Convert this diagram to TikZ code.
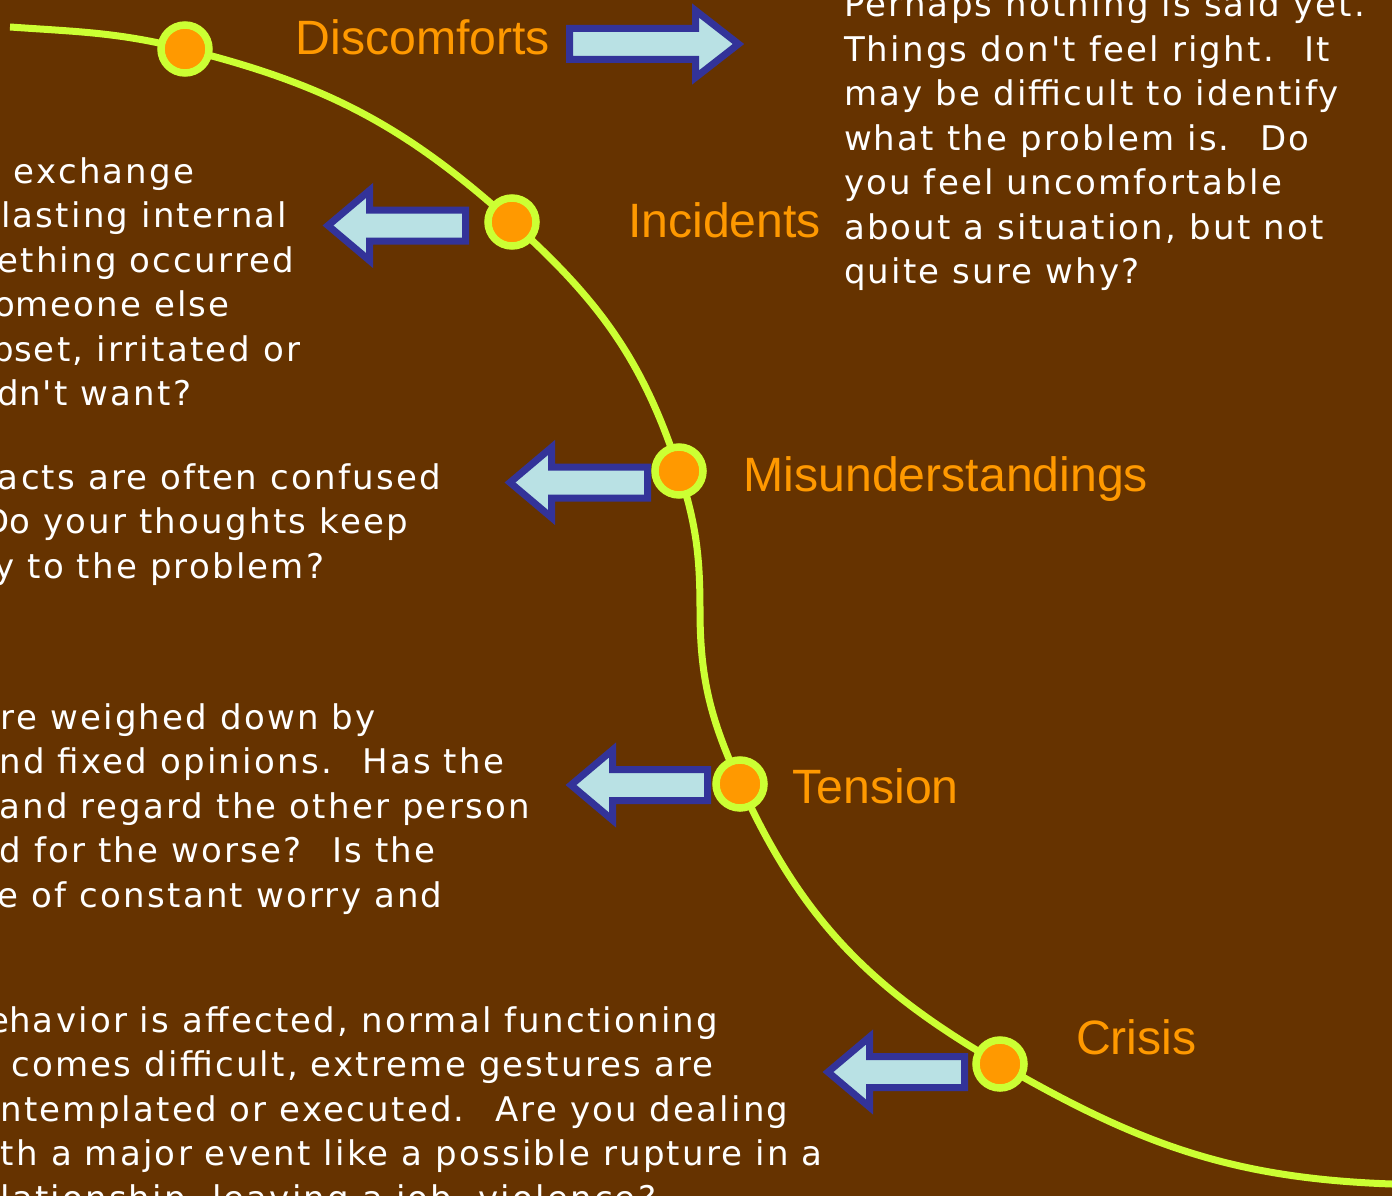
\documentclass[tikz,border=0pt]{standalone}
\usepackage{fontspec}
\newfontfamily\bodyfont[LetterSpace=6.5]{DejaVu Sans}
\newfontfamily\labelfont{Liberation Sans}
\definecolor{bgbrown}{HTML}{663300}
\definecolor{trackcol}{HTML}{CCFF33}
\definecolor{dotfill}{HTML}{FF9900}
\definecolor{lblcol}{HTML}{FF9900}
\definecolor{arrfill}{RGB}{185,225,228}
\definecolor{arrline}{HTML}{333399}
\tikzset{
  txt/.style={anchor=base west, inner sep=0pt, outer sep=0pt, text=white,
    font=\bodyfont\fontsize{34}{40}\selectfont},
  lbl/.style={anchor=base west, inner sep=0pt, outer sep=0pt, text=lblcol,
    font=\labelfont\fontsize{48.2}{50}\selectfont},
  dot/.style={circle, inner sep=0pt, minimum size=48pt, line width=7.5pt,
    draw=trackcol, fill=dotfill},
  blockarrow/.style={draw=arrline, fill=arrfill, line width=7pt, miter limit=10},
  track/.style={draw=trackcol, line width=7pt}
}
\newcommand\larrow[3]{\draw[blockarrow] ({#1+5},{-#2}) -- ({#1+46.5},{-#2+35}) -- ({#1+46.5},{-#2+15.5}) -- ({#3-3.5},{-#2+15.5}) -- ({#3-3.5},{-#2-15.5}) -- ({#1+46.5},{-#2-15.5}) -- ({#1+46.5},{-#2-35}) -- cycle;}
\begin{document}
\begin{tikzpicture}[x=1pt,y=1pt]
\useasboundingbox (0,0) rectangle (1392,-1196);
\fill[bgbrown] (0,0) rectangle (1392,-1196);
\clip (0,0) rectangle (1392,-1196);

% curve
\coordinate (S) at (10,-27);
\coordinate (k1) at (185,-49);
\coordinate (k2) at (512,-222);
\coordinate (k3) at (679,-471);
\coordinate (V) at (700,-610);
\coordinate (k4) at (740,-784);
\coordinate (k5) at (1000,-1064);
\coordinate (E) at (1392,-1184);
\draw[track] (S) to[out=-4,in=166] (k1) to[out=-14,in=138] (k2)
  to[out=-42,in=108] (k3) to[out=-72,in=90] (V) to[out=-90,in=114.5] (k4)
  to[out=-65.5,in=150] (k5) to[out=-30,in=178] (E);

% arrows
\draw[blockarrow] (569.5,-28.5) -- (695.5,-28.5) -- (695.5,-10.5) -- (738.5,-44)
  -- (695.5,-77.5) -- (695.5,-59.5) -- (569.5,-59.5) -- cycle;
\larrow{323}{225.5}{469}
\larrow{505}{482.5}{651}
\larrow{566}{785}{711}
\larrow{823}{1072}{968}

% dots
\node[dot] (d1) at (k1) {};
\node[dot] (d2) at (k2) {};
\node[dot] (d3) at (k3) {};
\node[dot] (d4) at (k4) {};
\node[dot] (d5) at (k5) {};

% labels
\node[lbl] (L1) at (295.5,-55) {Discomforts};
\node[lbl] (L2) at (628,-237.3) {Incidents};
\node[lbl] (L3) at (743.5,-491.7) {Misunderstandings};
\node[lbl] (L4) at (792.5,-803.3) {Tension};
\node[lbl] (L5) at (1076,-1054) {Crisis};

% right text
\node[txt] (r1) at (844,-16.8) {Perhaps nothing is said yet.};
\node[txt] (r2) at (844,-61.3) {Things don't feel right.~ It};
\node[txt] (r3) at (844,-105.8) {may be difficult to identify};
\node[txt] (r4) at (844,-150.3) {what the problem is.~ Do};
\node[txt] (r5) at (844,-194.8) {you feel uncomfortable};
\node[txt] (r6) at (844,-239.3) {about a situation, but not};
\node[txt] (r7) at (844,-283.8) {quite sure why?};

% incidents text
\node[txt] (i1) at (14,-183) {\llap{p }exchange};
\node[txt] (i2) at (1.3,-227.5) {lasting internal};
\node[txt] (i3) at (-2.5,-272) {ething occurred};
\node[txt] (i4) at (15,-316.5) {\llap{o}meone else};
\node[txt] (i5) at (14,-361) {\llap{p}set, irritated or};
\node[txt] (i6) at (19,-405.5) {\llap{d}n't want?};

% misunderstandings text
\node[txt] (m1) at (-2,-489) {acts are often confused};
\node[txt] (m2) at (9.5,-533.5) {\llap{D}o your thoughts keep};
\node[txt] (m3) at (27.5,-578) {\llap{y }to the problem?};

% tension text
\node[txt] (t1) at (1,-729) {re weighed down by};
\node[txt] (t2) at (-0.5,-773.5) {nd fixed opinions.~ Has the};
\node[txt] (t3) at (-0.5,-818) {and regard the other person};
\node[txt] (t4) at (-0.5,-862.5) {d for the worse?~ Is the};
\node[txt] (t5) at (-2,-907) {e of constant worry and};

% crisis text
\node[txt] (c1) at (9.2,-1032) {\llap{e}havior is affected, normal functioning};
\node[txt] (c2) at (11.5,-1076.5) {comes difficult, extreme gestures are};
\node[txt] (c3) at (0.4,-1121) {ntemplated or executed.~ Are you dealing};
\node[txt] (c4) at (1,-1165.5) {th a major event like a possible rupture in a};
\node[txt] (c5) at (0.4,-1210) {lationship, leaving a job, violence?};
\end{tikzpicture}
\end{document}
